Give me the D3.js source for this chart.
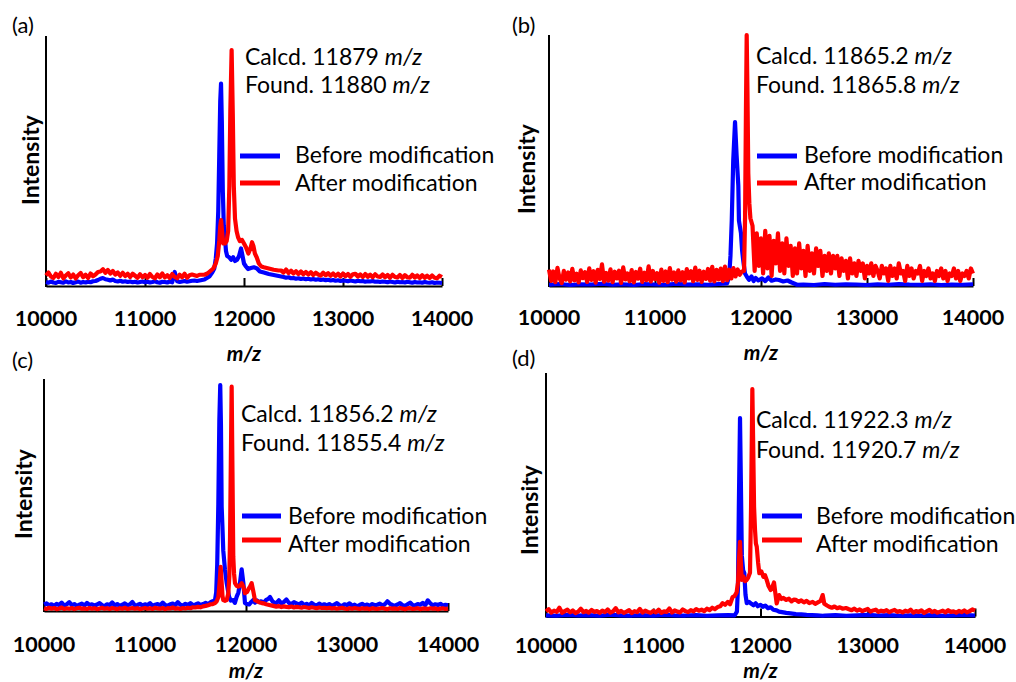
<html lang="en">
  <head>
    <meta charset="utf-8">
    <title>MALDI spectra before / after modification</title>
    <script src="https://d3js.org/d3.v7.min.js"></script>
    <style>
      body { margin: 0; background: #fff; }
      text { font-family: Lato, "Open Sans", sans-serif; fill: #000; }
    </style>
  </head>
  <body>
    <div id="viz"></div>
    <script type="text/javascript">
    // m/z tick labels shared by all four panels
    var mzTicks = [10000, 11000, 12000, 13000, 14000];

    // ---- panel (a) ----  intensities in % of axis height
    var aBlueLeft = [1.6,1.3,1.8,1.4,1.2,1.7,1.5,1.3,1.9,1.4,1.6,1.2,1.5,1.8,1.3,1.6,1.4,1.7,1.5,1.9,
                     2.0,2.4,2.9,3.2,2.7,2.5,2.2,2.6,2.0,1.8,2.1,1.7,1.9,1.6,1.8,1.5,1.7,1.4,1.6,1.8,
                     1.5,1.7,1.4,1.6,1.9,1.5,1.3,1.7,1.6,1.4,1.8,1.5,5.6,1.9,1.6,1.8,2.0,1.7,1.9,2.1,
                     2.2,2.0];
    var aBluePeak = [[11550,2.2],[11600,2.6],[11650,3.8],[11680,5.5],[11700,7],[11715,11],[11728,17],
                     [11740,30],[11750,52],[11760,74],[11768,81],[11776,66],[11786,38],[11796,24],
                     [11808,19],[11818,14],[11830,12],[11850,11.5],[11870,10.5],[11890,11.5],[11910,10],
                     [11930,10.5],[11950,12],[11970,15],[11985,12],[12000,9],[12020,7.8],[12040,6.8],
                     [12070,7.2],[12100,7.5],[12131,7],[12160,5.8],[12200,5.4],[12250,4.8],[12300,4.4],[12350,4]];
    var aBlueRight = [3.8,3.6,3.3,3.5,3.1,3.2,2.9,3.1,2.8,3.0,2.7,2.9,2.6,2.8,2.5,2.7,2.4,2.6,2.3,2.5,
                      2.2,2.4,2.1,2.3,2.0,2.2,2.1,1.9,2.2,2.0,1.8,2.1,1.9,2.0,1.7,1.9,1.8,2.0,1.7,1.8,
                      1.6,1.8,1.7,1.5,1.8,1.6,1.4,1.7,1.5,1.6,1.4,1.7,1.5,1.3,1.6,1.4,1.5,1.3,1.6,1.4,
                      1.3,1.5,1.2,1.4,1.3,1.2];
    var aRedLeft = [4.2,5.4,3.8,3.2,4.9,3.6,5.3,3.1,4.2,5.1,3.4,4.6,3.0,4.3,5.2,3.5,4.5,3.2,5.0,3.9,
                    4.6,5.6,5.8,6.7,5.3,6.4,5.0,6.0,4.6,5.4,4.1,5.3,4.0,4.9,3.6,4.9,4.1,3.3,4.7,3.5,
                    4.4,3.3,4.8,3.6,3.1,4.6,3.5,5.0,3.4,4.3,3.2,4.8,3.6,3.1,4.5,3.5,4.9,3.3,4.3,4.6,
                    4.3,4.0];
    var aRedPeak = [[11550,4.5],[11600,4.5],[11630,5],[11660,6],[11690,7],[11715,9],[11735,12],[11750,18],
                    [11760,24],[11768,26.4],[11778,22],[11790,17],[11808,17],[11825,18],[11840,22],
                    [11852,40],[11862,70],[11875,94.4],[11887,68],[11897,40],[11909,27],[11925,22],
                    [11940,19.5],[11958,18],[11980,18.4],[12000,17],[12020,15.5],[12044,13],[12065,15],
                    [12081,17.5],[12095,16],[12110,13],[12128,11.5],[12150,9],[12175,7.8],[12200,7.5],
                    [12250,7],[12300,6.5],[12350,6.2]];
    var aRedRight = [6.2,5.4,6.6,5.2,6.1,5.0,5.9,4.8,5.8,4.7,5.6,4.6,5.5,4.4,5.3,4.6,4.2,5.3,4.3,5.1,
                     4.1,5.0,4.0,4.9,3.8,5.0,3.9,4.8,3.7,4.7,4.9,3.8,4.6,3.6,4.8,3.7,4.5,3.5,4.7,3.8,
                     3.6,4.6,3.5,4.4,3.3,4.5,3.6,3.4,4.4,3.2,4.3,3.5,3.3,4.5,3.4,4.2,3.2,4.3,3.3,4.1,
                     3.2,4.2,3.3,3.1,4.1,3.6];

    // ---- panel (b) ----
    var bBlueLeft = [0.5,0.8,0.4,0.7,0.6,0.9,0.5,0.7,0.4,0.8,0.6,0.5,0.9,0.6,0.7,0.5,0.8];
    var bBluePeak = [[11680,1],[11700,4],[11712,12],[11724,26],[11738,50],[11755,65.3],[11770,52],
                     [11786,40],[11792,26],[11811,21],[11822,14],[11833,10],[11849,5],[11870,3.5],
                     [11887,2.5],[11910,3.8],[11930,2],[11950,3.2],[11975,2.2],[12010,3],[12040,2],
                     [12070,3.4],[12100,2.1],[12140,2.6],[12170,2.4],[12210,1.8],[12250,2.2],
                     [12290,1.4],[12340,0.5]];
    var bBlueRight = [0.6,0.4,0.8,0.5,0.7,0.6,0.4,0.7,0.5,0.8,0.6,0.5,0.7,0.4,0.6,0.5,0.7];
    var bRedLeft = [6.5,2.0,5.8,1.5,7.2,3.0,1.2,6.0,2.5,5.4,1.8,6.8,2.2,4.9,1.4,6.2,3.1,5.5,1.6,7.0,
                    2.4,5.9,1.3,6.4,2.8,8.6,1.7,5.2,2.1,6.6,1.5,5.7,3.0,6.1,1.2,7.4,2.6,5.0,1.9,6.3,
                    1.4,5.6,2.9,6.9,1.6,5.3,2.3,7.8,1.8,6.0,2.7,5.1,1.3,6.5,2.0,5.8,1.5,7.1,2.5,5.4,
                    1.7,6.2,2.2,5.5,1.4,6.7,3.0,5.9,1.9,7.3,2.4,6.1,1.6,5.7,2.8,6.8,2.1,7.6,1.8,6.4,
                    2.6,6.9,1.9,7.7,2.3,6.5,3.0,7.1,3.8,6.6,4.5,5.8];
    var bRedPeak = [[11840,6],[11850,28],[11858,70],[11865,100],[11872,78],[11880,45],[11890,33],[11900,27]];
    var bRedRight = [24,6,21,8,19,5,22,7,20,4,18,9,21,6,17,5,19,8,16,4,
                     15,5,17,7,14,4,16,6,13,5,15,8,14,4,12,6,13,5,12,7,
                     12,4,11,6,10,3,11,5,9,4,10,6,9,3,8,5,9,4,8,6,
                     3,8,5,7,2,8,4,7,3,9,5,6,2,8,4,7,3,6,5,8,
                     2,6,4,7,3,5,2,6,4,7,3,6,2,5,4,7,3,6,2,5,
                     4,6,3,7,5];

    // ---- panel (c) ----
    var cBlueLeft = [2.8,3.3,2.4,2.9,2.2,3.1,2.6,3.6,2.3,2.9,3.8,2.5,3.0,2.2,2.7,3.2,2.4,3.5,2.6,2.9,
                     2.3,2.8,3.4,2.5,2.1,2.9,2.6,3.7,2.4,3.0,2.2,2.7,3.3,2.5,2.8,3.9,2.4,2.6,3.1,2.3,
                     2.9,2.5,3.4,2.2,2.7,3.0,2.4,3.6,2.6,2.3,2.9,3.2,2.5,3.8,2.7,2.4,3.1,2.6,3.4,2.5,
                     2.8,3.3,2.6,3.0,3.5,2.9,3.8];
    var cBluePeak = [[11670,4.2],[11693,4.7],[11705,8],[11715,20],[11726,46],[11736,82],[11745,97.4],
                     [11752,80],[11759,45],[11767,36],[11775,26],[11792,17.7],[11809,12],[11832,6.2],
                     [11850,4.5],[11874,4.7],[11890,3.5],[11908,6.2],[11925,8],[11940,12],[11957,18],
                     [11974,12],[11990,3.4],[12010,3],[12030,2.8],[12050,3.8],[12070,4.7],[12090,3.6],
                     [12110,4.5],[12130,3.8],[12150,4.2],[12175,3.5],[12200,4.8],[12220,5.2],[12238,6],
                     [12260,4.3],[12280,3.6]];
    var cBlueRight = [3.4,4.6,3.2,3.9,5.0,3.5,3.0,3.8,3.3,2.8,3.6,2.6,3.1,2.4,3.5,2.7,2.3,3.2,2.5,2.9,
                      2.4,3.0,2.2,2.8,3.4,2.5,2.1,2.9,2.6,3.3,2.3,2.7,2.0,2.6,3.1,2.4,2.8,2.2,3.0,2.5,
                      2.7,3.2,2.4,2.9,4.2,3.1,2.6,2.3,2.8,3.4,2.5,2.2,2.9,3.6,2.6,2.4,3.0,2.7,3.5,2.5,
                      4.6,3.3,2.4,2.9,2.6,3.1,2.3,2.7,2.5];
    var cRedLeft = [1.2,0.9,1.4,1.0,1.3,0.8,1.1,1.5,0.9,1.2,1.0,1.3,0.8,1.2,1.4,1.0,1.1,0.9,1.3,1.0,
                    1.2,0.8,1.1,1.4,1.0,1.2,0.9,1.3,1.1,0.8,1.2,1.0,1.4,0.9,1.1,1.3,1.0,1.2,0.8,1.1,
                    1.3,1.0,1.2,0.9,1.4,1.1,1.0,1.3,0.8,1.2,1.1,1.5,1.0,1.2,0.9,1.3,1.1,1.4,1.2,1.6,
                    1.5,1.8,1.6,2.0,2.2,2.5,2.9];
    var cRedPeak = [[11670,3.0],[11693,3.4],[11710,4.2],[11726,6],[11738,12],[11749,19],[11758,13],
                    [11767,6.5],[11775,4.7],[11792,4.4],[11809,4.7],[11825,7.6],[11835,15],[11842,32],
                    [11850,65],[11858,96.7],[11866,60],[11874,23.4],[11882,16],[11891,12],[11908,10.8],
                    [11924,10.5],[11940,11],[11957,12],[11974,10.5],[11990,7.7],[12010,8.2],[12025,9.5],
                    [12040,10.5],[12056,12],[12070,9],[12089,4.7],[12110,4.2],[12130,3.8],[12150,3.5],
                    [12172,3.3],[12200,2.9],[12230,2.6],[12260,2.3],[12280,2.1]];
    var cRedRight = [1.9,2.1,1.7,2.0,1.8,1.6,1.9,1.5,1.8,1.6,1.4,1.7,1.5,1.3,1.6,1.4,1.2,1.5,1.3,1.4,
                     1.2,1.4,1.1,1.3,1.0,1.2,1.4,1.1,0.9,1.2,1.0,1.3,1.1,0.9,1.2,1.0,1.1,0.8,1.2,1.0,
                     0.9,1.1,1.3,1.0,0.8,1.2,1.0,1.1,0.9,1.3,1.0,0.8,1.1,1.2,0.9,1.0,1.2,0.8,1.1,1.0,
                     0.9,1.2,1.0,1.1,0.8,1.0,1.2,0.9,1.1];

    // ---- panel (d) ----
    var dBlueLeft = [0.5,0.3,0.7,0.4,0.6,0.3,0.8,0.5,0.4,0.6,0.3,0.7,0.5,0.4,0.6,0.3,0.5,0.6];
    var dBluePeak = [[11760,0.5],[11780,2],[11790,12],[11798,45],[11809,81.5],[11817,55],[11826,25],
                     [11838,19],[11849,17.8],[11860,9],[11872,5.5],[11893,6],[11915,5.2],[11935,4.6],
                     [11955,5.4],[11975,4.2],[12000,4.8],[12021,4],[12045,4.5],[12070,3.4],[12095,3.8],
                     [12120,2.8],[12150,2.5],[12173,2],[12200,1.8],[12240,1.5],[12280,1.3],[12330,1.0],
                     [12380,0.9],[12430,0.7],[12480,0.6],[12530,0.5],[12580,0.3]];
    var dBlueRight = [0.4,0.6,0.3,0.5,0.7,0.4,0.6,0.3,0.5,0.4,0.6,0.3,0.5,0.7,0.4];
    var dRedLeft = [2.1,3.0,1.6,2.4,1.9,3.6,1.5,2.2,2.8,1.7,2.5,1.4,2.0,3.2,1.8,2.3,1.6,2.7,1.9,2.2,
                    1.5,2.4,1.8,2.9,1.6,2.1,3.4,1.7,2.3,1.5,2.0,2.6,1.4,2.2,1.8,3.1,1.6,2.4,1.9,1.5,
                    2.3,1.7,2.8,1.5,2.1,1.9,3.3,1.6,2.5,2.0,1.7,2.9,2.2,1.8,2.6,2.1,3.0,2.4,2.8,2.2,
                    3.2,2.6,3.6,3.0,3.9];
    var dRedPeak = [[11625,4.2],[11647,5.5],[11670,4.8],[11695,6],[11716,5],[11740,8],[11760,8.5],
                    [11778,10],[11790,14],[11800,24],[11809,30.7],[11817,22],[11825,15],[11840,16.5],
                    [11855,14.5],[11871,15],[11885,16],[11902,18],[11912,45],[11924,93.4],[11932,70],
                    [11940,45],[11949,35.5],[11957,30],[11965,28.7],[11978,22],[11989,17.8],[12008,18.5],
                    [12027,16.3],[12042,17],[12058,15],[12075,12.5],[12095,10.9],[12110,12],[12126,14],
                    [12140,9],[12151,5.4],[12173,8.8],[12195,7.2],[12214,7.6],[12240,6.8],[12265,7.3],
                    [12290,6.2],[12310,6.9],[12331,6.8],[12355,6.0],[12380,6.6],[12405,5.8],[12430,6.4],
                    [12455,5.5],[12486,6],[12510,5.2],[12535,5.8],[12560,6.4],[12580,8.8],[12595,5.2],
                    [12620,4.5],[12640,4.0],[12665,3.6],[12690,4.1],[12715,3.4],[12740,3.8],[12765,3.2],
                    [12797,3.5]];
    var dRedRight = [3.0,2.6,3.2,2.4,2.9,2.2,2.7,3.1,2.0,2.5,2.8,1.9,2.4,2.1,2.6,1.8,2.3,2.7,1.9,2.2,
                     1.7,2.4,2.0,2.8,1.6,2.2,1.9,2.5,1.5,2.1,2.7,1.8,2.3,1.6,2.0,2.4,1.7,2.6,1.9,2.1,
                     1.6,2.3,1.8,2.5,1.7,2.2,2.9,2.4];

    // annotation texts
    var calcd = ["11879", "11865.2", "11856.2", "11922.3"];
    var found = ["11880", "11865.8", "11855.4", "11920.7"];
    var letters = ["(a)", "(b)", "(c)", "(d)"];

    var blueColor = "#0000ff";
    var redColor = "#ff0000";

    // turn a regular grid of readings into [m/z, value] pairs
    function grid(start, step, vals) {
      return vals.map(function(v, i) { return [start + i * step, v]; });
    }

    // layout of every panel (pixel positions in the 1016x682 picture)
    var panels = [
      { x0: 46, x1: 442, base: 286, top: 36, tickY: 318, mzY: 361, intX: 31, intY: 160,
        lab: [12, 25], calc: [245, 65, 93], leg: [240, 280, 156, 183, 295, 163, 191],
        blue: grid(10000, 25, aBlueLeft).concat(aBluePeak, grid(12375, 25, aBlueRight)),
        red: grid(10000, 25, aRedLeft).concat(aRedPeak, grid(12375, 25, aRedRight)) },
      { x0: 549, x1: 973, base: 286, top: 35, tickY: 317, mzY: 360, intX: 527, intY: 169,
        lab: [512, 25], calc: [756, 64, 93], leg: [757, 797, 156, 183, 804, 163, 190],
        blue: grid(10000, 100, bBlueLeft).concat(bBluePeak, grid(12400, 100, bBlueRight)),
        red: grid(10000, 20, bRedLeft).concat(bRedPeak, grid(11920, 20, bRedRight)) },
      { x0: 44, x1: 448, base: 611, top: 379, tickY: 644, mzY: 678, intX: 24, intY: 494,
        lab: [12, 360], calc: [241, 422, 451], leg: [242, 281, 516, 540, 288, 524, 552],
        blue: grid(10000, 25, cBlueLeft).concat(cBluePeak, grid(12300, 25, cBlueRight)),
        red: grid(10000, 25, cRedLeft).concat(cRedPeak, grid(12300, 25, cRedRight)) },
      { x0: 546, x1: 975, base: 616.5, top: 373, tickY: 645, mzY: 678, intX: 530, intY: 510,
        lab: [512, 358], calc: [756, 428, 458], leg: [762, 802, 516, 540, 816, 524, 552],
        blue: grid(10000, 100, dBlueLeft).concat(dBluePeak, grid(12600, 100, dBlueRight)),
        red: grid(10000, 25, dRedLeft).concat(dRedPeak, grid(12825, 25, dRedRight)) }
    ];

    var svg = d3.select("#viz")
      .append("svg")
      .attr("width", 1016)
      .attr("height", 682);

    svg.append("rect").attr("width", 1016).attr("height", 682).attr("fill", "#fff");

    panels.forEach(function(p, k) {
      var x = d3.scaleLinear().domain([10000, 14000]).range([p.x0, p.x1]);
      var y = d3.scaleLinear().domain([0, 100]).range([p.base, p.top]);
      var g = svg.append("g");

      // x axis: inner ticks, labels drawn separately further down
      var xAxis = g.append("g")
        .attr("transform", "translate(0," + p.base + ")")
        .call(d3.axisBottom(x).tickValues(mzTicks).tickSize(-8).tickSizeOuter(0).tickFormat(""));
      xAxis.select(".domain").attr("stroke", "#000").attr("stroke-width", 2);
      xAxis.selectAll(".tick line").attr("stroke", "#000").attr("stroke-width", 2);

      g.append("line")
        .attr("x1", p.x0).attr("x2", p.x0)
        .attr("y1", p.top).attr("y2", p.base + 1)
        .attr("stroke", "#000").attr("stroke-width", 2);

      var line = d3.line()
        .x(function(d) { return x(d[0]); })
        .y(function(d) { return y(d[1]); });

      g.append("path").datum(p.blue)
        .attr("d", line).attr("fill", "none")
        .attr("stroke", blueColor).attr("stroke-width", 4.2).attr("stroke-linejoin", "round");
      g.append("path").datum(p.red)
        .attr("d", line).attr("fill", "none")
        .attr("stroke", redColor).attr("stroke-width", 4.2).attr("stroke-linejoin", "round");

      // tick labels
      g.selectAll(".mzlab").data(mzTicks).enter().append("text")
        .attr("x", function(d) { return x(d); })
        .attr("y", p.tickY)
        .attr("dy", "0.35em")
        .attr("text-anchor", "middle")
        .attr("font-weight", "bold")
        .attr("font-size", 21.5)
        .text(function(d) { return d; });

      g.append("text")
        .attr("x", x(12000)).attr("y", p.mzY)
        .attr("text-anchor", "middle")
        .attr("font-weight", "bold").attr("font-style", "italic")
        .attr("font-size", 21)
        .text("m/z");

      g.append("text")
        .attr("transform", "translate(" + p.intX + "," + p.intY + ") rotate(-90)")
        .attr("dy", "0.35em")
        .attr("text-anchor", "middle")
        .attr("font-weight", "bold")
        .attr("font-size", 23)
        .text("Intensity");

      g.append("text")
        .attr("x", p.lab[0]).attr("y", p.lab[1]).attr("dy", "0.35em")
        .attr("font-size", 22)
        .text(letters[k]);

      var t1 = g.append("text").attr("x", p.calc[0]).attr("y", p.calc[1]).attr("font-size", 23);
      t1.append("tspan").text("Calcd. " + calcd[k] + " ");
      t1.append("tspan").attr("font-style", "italic").text("m/z");
      var t2 = g.append("text").attr("x", p.calc[0]).attr("y", p.calc[2]).attr("font-size", 23);
      t2.append("tspan").text("Found. " + found[k] + " ");
      t2.append("tspan").attr("font-style", "italic").text("m/z");

      // legend
      g.append("line")
        .attr("x1", p.leg[0]).attr("x2", p.leg[1]).attr("y1", p.leg[2]).attr("y2", p.leg[2])
        .attr("stroke", blueColor).attr("stroke-width", 5);
      g.append("line")
        .attr("x1", p.leg[0]).attr("x2", p.leg[1]).attr("y1", p.leg[3]).attr("y2", p.leg[3])
        .attr("stroke", redColor).attr("stroke-width", 5);
      g.append("text").attr("x", p.leg[4]).attr("y", p.leg[5])
        .attr("font-size", 23).text("Before modification");
      g.append("text").attr("x", p.leg[4]).attr("y", p.leg[6])
        .attr("font-size", 23).text("After modification");
    });
    </script>
  </body>
</html>
